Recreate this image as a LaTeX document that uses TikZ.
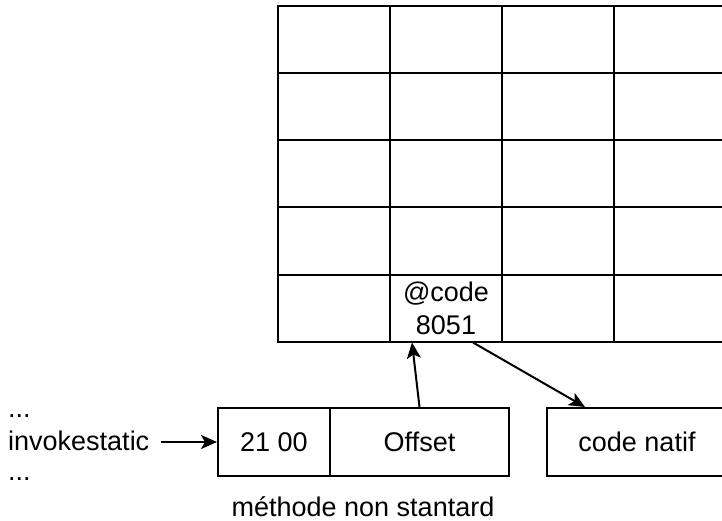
\documentclass[tikz,border=0pt]{standalone}
\usepackage{fontspec}
\setmainfont{Liberation Sans}
\usetikzlibrary{arrows.meta,calc}
\begin{document}
\begin{tikzpicture}[x=1pt,y=-1pt,
  every node/.style={font=\fontsize{27}{32}\selectfont},
  cell/.style={draw,line width=2pt,minimum width=112pt,minimum height=67pt,inner sep=0pt,align=center},
  box/.style={draw,line width=2pt,minimum height=68pt,inner sep=0pt,outer sep=0pt},
  arr/.style={line width=2pt,-{Stealth[length=16pt,width=14pt,inset=4pt]}},
  lbl/.style={inner sep=0pt,anchor=base west}]
\useasboundingbox (0,0) rectangle (722,521);
\clip (0,0) rectangle (722,521);
% grid
\foreach \c/\x in {1/334,2/446,3/558,4/670}{
  \foreach \r/\y in {1/40,2/107,3/174,4/241,5/308}{
    \node[cell] (c\c\r) at (\x,\y) {};
  }
}
\node[cell,font=\fontsize{27}{33}\selectfont] (code) at (446,308) {@code\\8051};
% boxes
\node[box,minimum width=112pt] (b1) at (274,442) {21 00};
\node[box,minimum width=179pt,anchor=west] (b2) at (b1.east) {Offset};
\node[box,minimum width=180pt,anchor=west] (natif) at (547,442) {code natif};
% left text
\node[lbl] (d1) at (8,417) {...};
\node[lbl] (inv) at (8,450) {invokestatic};
\node[lbl] (d2) at (8,480) {...};
\node[inner sep=0pt,anchor=base] (meth) at (363,516) {méthode non stantard};
% arrows
\draw[arr] ($(inv.east |- b1.west)+(12,0)$) -- ($(b1.west)+(-1,0)$);
\draw[arr] ($(b2.north)+(0,-1)$) -- ($(code.south west)+(23,0)$);
\draw[arr] ($(code.south west)+(84,0)$) -- ($(natif.north west)+(38,-1)$);
\end{tikzpicture}
\end{document}
